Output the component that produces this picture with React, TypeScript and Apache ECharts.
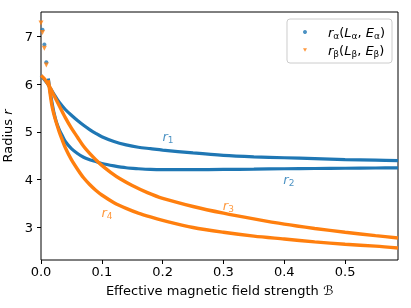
import React, { useEffect, useRef } from 'react';
import * as echarts from 'echarts';

const BLUE = '#1f77b4';
const ORANGE = '#ff7f0e';
const FONT = 'DejaVu Sans';

// r1 (blue, upper)
const B1 = [0, 0.005, 0.01, 0.015, 0.02, 0.03, 0.04, 0.05, 0.06, 0.07, 0.08, 0.09, 0.1, 0.12, 0.14, 0.16, 0.18, 0.2, 0.25, 0.3, 0.35, 0.4, 0.45, 0.5, 0.55, 0.587];
const R1 = [6.18, 6.1, 6.02, 5.92, 5.82, 5.62, 5.47, 5.35, 5.24, 5.14, 5.05, 4.97, 4.9, 4.8, 4.73, 4.68, 4.65, 4.62, 4.56, 4.51, 4.48, 4.46, 4.44, 4.42, 4.41, 4.4];
// r2 (blue, lower) dense part
const B2 = [0.012, 0.015, 0.018, 0.021, 0.025, 0.03, 0.035, 0.04, 0.05, 0.06, 0.07, 0.08, 0.09, 0.1, 0.12, 0.14, 0.16, 0.18, 0.2, 0.25, 0.3, 0.35, 0.4, 0.45, 0.5, 0.55, 0.587];
const R2 = [6.12, 5.85, 5.62, 5.42, 5.22, 5.05, 4.92, 4.8, 4.65, 4.55, 4.47, 4.42, 4.38, 4.34, 4.29, 4.25, 4.23, 4.215, 4.21, 4.21, 4.215, 4.22, 4.23, 4.235, 4.24, 4.245, 4.25];
// r2 sparse start points
const BS2 = [0.0025, 0.0055, 0.0087];
const RS2 = [7.14, 6.83, 6.46];
// r3 (orange, upper)
const B3 = [0, 0.005, 0.01, 0.015, 0.02, 0.03, 0.04, 0.05, 0.06, 0.07, 0.08, 0.09, 0.1, 0.115, 0.13, 0.15, 0.175, 0.2, 0.25, 0.3, 0.35, 0.4, 0.45, 0.5, 0.55, 0.587];
const R3 = [6.18, 6.12, 6.03, 5.93, 5.8, 5.55, 5.3, 5.08, 4.89, 4.7, 4.55, 4.42, 4.3, 4.15, 4.02, 3.88, 3.73, 3.61, 3.44, 3.3, 3.18, 3.07, 2.98, 2.9, 2.83, 2.78];
// r4 (orange, lower) dense part
const B4 = [0.012, 0.015, 0.018, 0.021, 0.025, 0.03, 0.035, 0.04, 0.05, 0.06, 0.07, 0.08, 0.09, 0.1, 0.12, 0.14, 0.16, 0.18, 0.2, 0.25, 0.3, 0.35, 0.4, 0.45, 0.5, 0.55, 0.587];
const R4 = [6.08, 5.8, 5.55, 5.38, 5.2, 5.0, 4.83, 4.67, 4.42, 4.22, 4.04, 3.9, 3.78, 3.68, 3.52, 3.4, 3.3, 3.22, 3.15, 3.0, 2.9, 2.82, 2.76, 2.7, 2.65, 2.61, 2.57];
// r4 sparse start points
const BS4 = [0, 0.0025, 0.0055, 0.0087];
const RS4 = [7.28, 7.08, 6.75, 6.4];

const X_TICKS = [0, 0.1, 0.2, 0.3, 0.4, 0.5];
const Y_TICKS = [3, 4, 5, 6, 7];

const LABEL_B = [0.2087, 0.4076, 0.308, 0.1085];
const LABEL_R = [4.9, 4.0, 3.46, 3.31];
const LABEL_SUB = ['1', '2', '3', '4'];
const LABEL_COLOR = [BLUE, BLUE, ORANGE, ORANGE];

const zip = (xs: number[], ys: number[]) => xs.map((x, i) => [x, ys[i]]);

export default function App() {
  const ref = useRef<HTMLDivElement>(null);
  useEffect(() => {
    document.body.style.margin = '0';
    const chart = echarts.init(ref.current as HTMLDivElement, null, { renderer: 'svg' });
    const mainStyle = (color: string, lh = 16) => ({ fontFamily: FONT, fontSize: 13, color, lineHeight: lh });
    const italic = (color: string, lh = 16) => ({ ...mainStyle(color, lh), fontStyle: 'italic' });
    const sub = (color: string) => ({ fontFamily: FONT, fontSize: 9, color, lineHeight: 8, verticalAlign: 'bottom' });

    const lineSeries = (name: string, bs: number[], rs: number[], color: string, width: number) => ({
      name,
      type: 'line',
      data: zip(bs, rs),
      showSymbol: false,
      smooth: 0.3,
      silent: true,
      lineStyle: { color, width },
      itemStyle: { color },
      z: 2,
    });

    const option: any = {
      animation: false,
      grid: {
        left: 41, right: 13, top: 12, bottom: 48,
        show: true, borderColor: '#000', borderWidth: 1,
        containLabel: false, outerBoundsMode: 'none',
      },
      xAxis: {
        type: 'value',
        min: 0,
        max: 0.587,
        splitLine: { show: false },
        axisLine: { show: false },
        axisTick: { show: true, length: 4, customValues: X_TICKS, lineStyle: { color: '#000' } },
        axisLabel: {
          customValues: X_TICKS,
          formatter: (v: number) => v.toFixed(1),
          fontFamily: FONT,
          fontSize: 13,
          color: '#000',
          margin: 5,
        },
        name: 'Effective magnetic field strength ℬ',
        nameLocation: 'middle',
        nameGap: 24,
        nameTextStyle: { fontFamily: FONT, fontSize: 13, color: '#000' },
      },
      yAxis: {
        type: 'value',
        min: 2.32,
        max: 7.51,
        splitLine: { show: false },
        axisLine: { show: false },
        axisTick: { show: true, length: 4, customValues: Y_TICKS, lineStyle: { color: '#000' } },
        axisLabel: {
          customValues: Y_TICKS,
          formatter: (v: number) => String(v),
          fontFamily: FONT,
          fontSize: 13,
          color: '#000',
          margin: 8,
        },
        name: '{n|Radius }{i|r}',
        nameLocation: 'middle',
        nameGap: 17,
        nameTextStyle: {
          fontFamily: FONT,
          fontSize: 13,
          color: '#000',
          rich: { n: mainStyle('#000'), i: italic('#000') },
        },
      },
      legend: {
        orient: 'vertical',
        right: 19,
        top: 19,
        padding: [5, 7, 5, 16],
        itemGap: 2,
        itemWidth: 4,
        itemHeight: 4,
        backgroundColor: 'rgba(255,255,255,0.8)',
        borderColor: '#cccccc',
        borderWidth: 1,
        borderRadius: 3,
        data: [
          { name: 'rα', icon: 'circle' },
          { name: 'rβ', icon: 'path://M0,0L10,0L5,8.66Z' },
        ],
        formatter: (name: string) => {
          const g = name === 'rα' ? 'α' : 'β';
          return `{i0|r}{s|${g}}{n|(}{i|L}{s|${g}}{n|, }{i|E}{s|${g}}{n|)}`;
        },
        textStyle: {
          fontFamily: FONT,
          fontSize: 13,
          color: '#000',
          lineHeight: 16,
          rich: {
            i0: { ...italic('#000'), padding: [0, 0, 0, 16] },
            i: italic('#000'),
            n: mainStyle('#000'),
            s: sub('#000'),
          },
        },
      },
      series: [
        lineSeries('r1', B1, R1, BLUE, 3.2),
        lineSeries('r2', B2, R2, BLUE, 3.2),
        {
          name: 'rα',
          type: 'scatter',
          data: zip(BS2, RS2),
          symbol: 'circle',
          symbolSize: 4,
          itemStyle: { color: BLUE },
          z: 3,
        },
        lineSeries('r3', B3, R3, ORANGE, 3.4),
        lineSeries('r4', B4, R4, ORANGE, 3.4),
        {
          name: 'rβ',
          type: 'scatter',
          data: zip(BS4, RS4),
          symbol: 'triangle',
          symbolRotate: 180,
          symbolSize: 5,
          itemStyle: { color: ORANGE },
          z: 4,
        },
        {
          name: 'labels',
          type: 'scatter',
          silent: true,
          symbolSize: 1,
          itemStyle: { color: 'rgba(0,0,0,0)' },
          z: 5,
          data: LABEL_B.map((b, i) => ({
            value: [b, LABEL_R[i]],
            label: {
              show: true,
              position: 'inside',
              formatter: `{i|r}{s|${LABEL_SUB[i]}}`,
              rich: { i: italic(LABEL_COLOR[i]), s: sub(LABEL_COLOR[i]) },
            },
          })),
        },
      ],
    };
    chart.setOption(option);
    return () => chart.dispose();
  }, []);
  return <div ref={ref} style={{ position: 'fixed', left: 0, top: 0, width: 411, height: 308 }} />;
}
